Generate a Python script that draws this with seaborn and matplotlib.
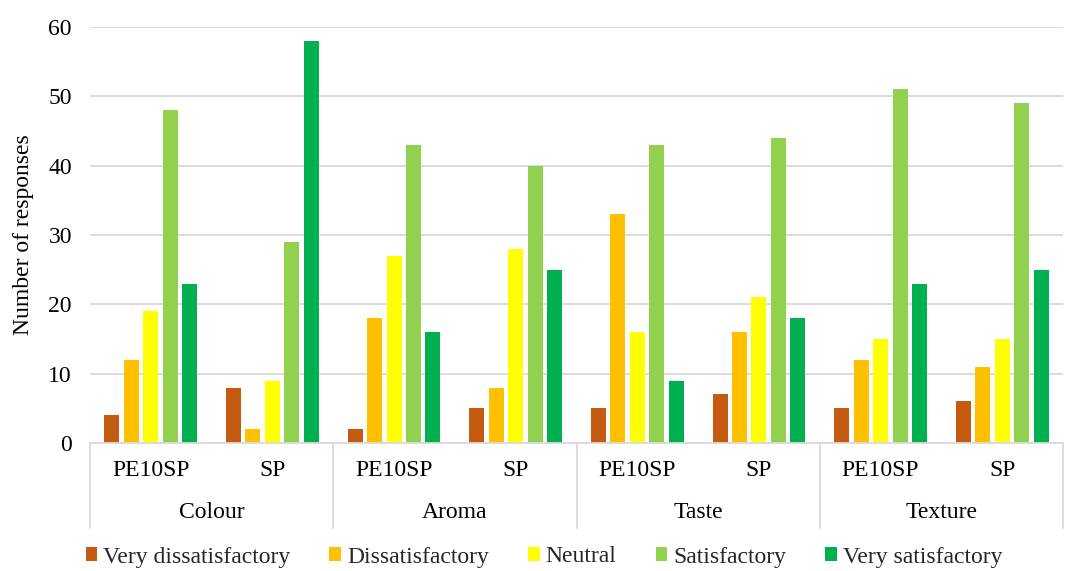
import matplotlib
matplotlib.use("Agg")
import matplotlib.pyplot as plt
import seaborn as sns
import pandas as pd
from matplotlib.patches import Patch

attributes = ["Colour", "Aroma", "Taste", "Texture"]
products = ["PE10SP", "SP"]
ratings = ["Very dissatisfactory", "Dissatisfactory", "Neutral", "Satisfactory", "Very satisfactory"]
colors = ["#C55A11", "#FFC000", "#FFFF00", "#92D050", "#00B050"]

# values per rating, in order: Colour-PE10SP, Colour-SP, Aroma-PE10SP, Aroma-SP,
# Taste-PE10SP, Taste-SP, Texture-PE10SP, Texture-SP
very_dissatisfactory = [4, 8, 2, 5, 5, 7, 5, 6]
dissatisfactory = [12, 2, 18, 8, 33, 16, 12, 11]
neutral = [19, 9, 27, 28, 16, 21, 15, 15]
satisfactory = [48, 29, 43, 40, 43, 44, 51, 49]
very_satisfactory = [23, 58, 16, 25, 9, 18, 23, 25]

series = [very_dissatisfactory, dissatisfactory, neutral, satisfactory, very_satisfactory]

groups = [f"{a}|{p}" for a in attributes for p in products]
rows = []
for r, vals in zip(ratings, series):
    for g, v in zip(groups, vals):
        rows.append({"group": g, "rating": r, "value": v})
df = pd.DataFrame(rows)

sns.set_theme(style="white")
plt.rcParams["font.family"] = ["Liberation Serif", "DejaVu Serif"]
FS = 17
grid_col = "#D9D9D9"

fig = plt.figure(figsize=(10.65, 5.71), dpi=100)
ax = fig.add_axes([90 / 1065, (571 - 443) / 571, (1063 - 90) / 1065, (443 - 27) / 571])

sns.barplot(data=df, x="group", y="value", hue="rating", order=groups,
            hue_order=ratings, palette=colors, width=0.8, ax=ax,
            legend=False, saturation=1, errorbar=None)

# narrow bars inside their slots
for p in ax.patches:
    w = p.get_width()
    nw = w * 0.77
    p.set_x(p.get_x() + (w - nw) / 2)
    p.set_width(nw)
    p.set_edgecolor("none")

ax.set_xlim(-0.5, len(groups) - 0.5)
ax.set_ylim(0, 60)
ax.set_yticks(range(0, 61, 10))
ax.yaxis.grid(True, color=grid_col, linewidth=1.3)
ax.set_axisbelow(True)
for s in ["top", "right", "left"]:
    ax.spines[s].set_visible(False)
ax.spines["bottom"].set_color(grid_col)
ax.spines["bottom"].set_linewidth(1.3)
ax.tick_params(axis="y", length=0, labelsize=FS, pad=13, labelcolor="black")
ax.set_xticks([])
ax.set_xlabel("")
ax.set_ylabel("Number of responses", fontsize=FS, labelpad=10, color="black")

# multi-level x labels
trans = ax.get_xaxis_transform()
def px_to_axes(py):
    return (443 - py) / (443 - 27)

for i, g in enumerate(groups):
    ax.text(i, px_to_axes(470), g.split("|")[1], transform=trans,
            ha="center", va="center", fontsize=FS, color="black")
for j, a in enumerate(attributes):
    ax.text(2 * j + 0.5, px_to_axes(513), a, transform=trans,
            ha="center", va="center", fontsize=FS, color="black")
for k in range(len(attributes) + 1):
    x = 2 * k - 0.5
    ax.plot([x, x], [0, px_to_axes(528)], transform=trans, color=grid_col,
            linewidth=1.3, clip_on=False)

handles = [Patch(facecolor=c, edgecolor="none", label=r) for r, c in zip(ratings, colors)]
fig.legend(handles=handles, loc="center", bbox_to_anchor=(544 / 1065, (571 - 557) / 571),
           ncol=5, frameon=False, prop={"family": ["Liberation Serif"], "size": FS},
           handlelength=0.5, handleheight=0.5, handletextpad=0.25, columnspacing=1.65,
           borderpad=0, borderaxespad=0)

fig.savefig("out.png", dpi=100)
